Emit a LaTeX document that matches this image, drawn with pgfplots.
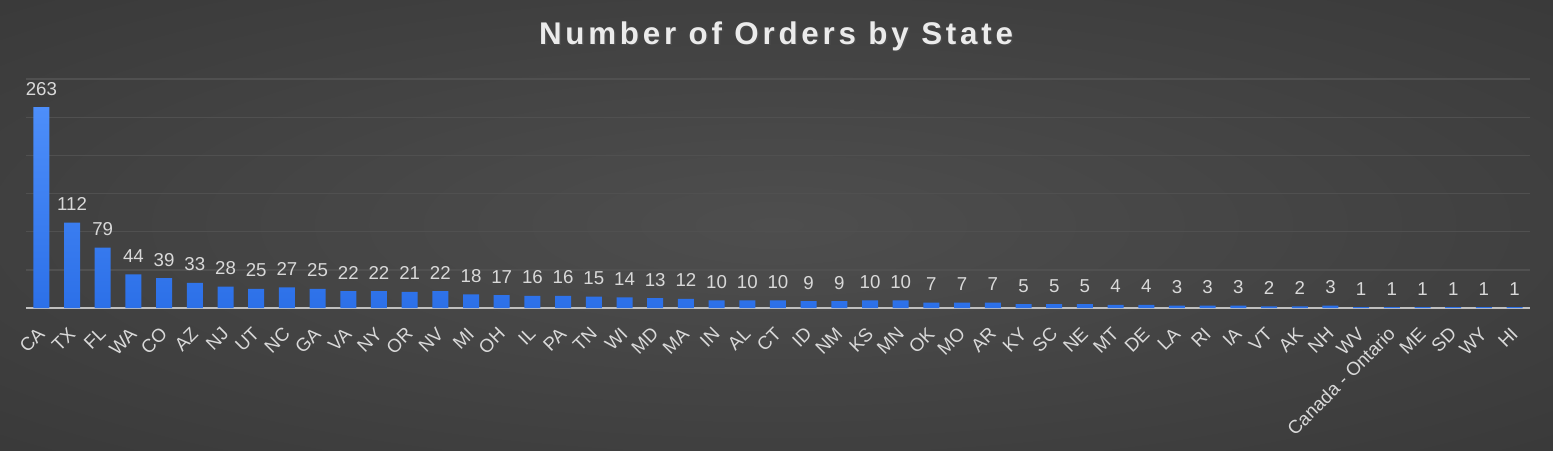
\documentclass[border=0pt]{standalone}
\usepackage{pgfplots}
\pgfplotsset{compat=1.18}
\usepackage{fontspec}
\setmainfont{Liberation Sans}
\definecolor{bgin}{HTML}{4E4E4E}
\definecolor{bgmid}{HTML}{3A3A3A}
\definecolor{bgout}{HTML}{262626}
\definecolor{gridc}{HTML}{505050}
\definecolor{axc}{HTML}{BFBFBF}
\definecolor{lbl}{HTML}{D9D9D9}
\definecolor{bartop}{HTML}{4D8EFA}
\definecolor{barbot}{HTML}{2C70E8}
\pgfdeclareradialshading{bgshade}{\pgfpoint{0bp}{0bp}}{color(0bp)=(bgin); color(35bp)=(bgmid); color(71bp)=(bgout)}
\begin{document}
\begin{tikzpicture}[x=0.75pt,y=0.75pt]
\useasboundingbox (0,0) rectangle (1553,450);
\shade[shading=bgshade] (0,0) rectangle (1553,450);
\node[text=black!70, font=\fontsize{23.5pt}{23.5pt}\selectfont\bfseries\addfontfeature{LetterSpace=12}] at (777.5,412.5) {Number of Orders by State};
\node[text=white!92!black, font=\fontsize{23.5pt}{23.5pt}\selectfont\bfseries\addfontfeature{LetterSpace=12}] at (776,414) {Number of Orders by State};
\begin{axis}[
  at={(19.5pt,106.5pt)}, anchor=south west,
  width=1128pt, height=171.75pt, scale only axis,
  xmin=-0.5, xmax=48.5, ymin=0, ymax=300,
  clip=false,
  /pgf/number format/assume math mode=true,
  axis line style={draw=none},
  major tick length=0pt,
  ytick={50,100,...,300}, yticklabels={},
  ymajorgrids, grid style={color=gridc, line width=1pt},
  extra y ticks={0}, extra y tick labels={},
  extra y tick style={grid style={color=axc, line width=1.6pt}},
  xtick={0,...,48},
  xticklabels={CA,TX,FL,WA,CO,AZ,NJ,UT,NC,GA,VA,NY,OR,NV,MI,OH,IL,PA,TN,WI,MD,MA,IN,AL,CT,ID,NM,KS,MN,OK,MO,AR,KY,SC,NE,MT,DE,LA,RI,IA,VT,AK,NH,WV,Canada - Ontario,ME,SD,WY,HI},
  xticklabel style={font=\fontsize{14pt}{14pt}\selectfont, text=lbl, rotate=45, anchor=east, inner sep=0pt},
  xticklabel shift=17pt,
  ybar, bar width=12pt,
  nodes near coords,
  nodes near coords style={font=\fontsize{14pt}{14pt}\selectfont, text=lbl, anchor=base, yshift=9pt, inner sep=0pt},
]
\addplot[draw=none, top color=bartop, bottom color=barbot] coordinates {
(0,263) (1,112) (2,79) (3,44) (4,39) (5,33) (6,28) (7,25) (8,27) (9,25)
(10,22) (11,22) (12,21) (13,22) (14,18) (15,17) (16,16) (17,16) (18,15) (19,14)
(20,13) (21,12) (22,10) (23,10) (24,10) (25,9) (26,9) (27,10) (28,10) (29,7)
(30,7) (31,7) (32,5) (33,5) (34,5) (35,4) (36,4) (37,3) (38,3) (39,3)
(40,2) (41,2) (42,3) (43,1) (44,1) (45,1) (46,1) (47,1) (48,1)
};
\end{axis}
\end{tikzpicture}
\end{document}
